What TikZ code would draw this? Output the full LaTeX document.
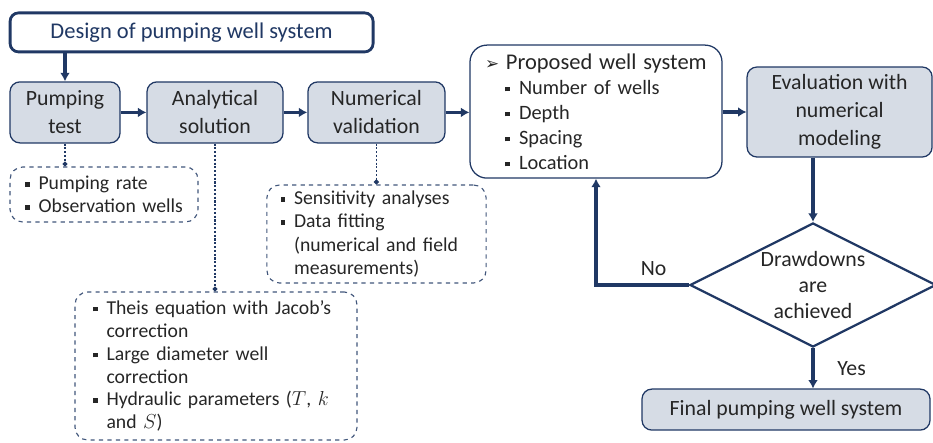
\documentclass[tikz,border=0pt]{standalone}
\usepackage{fontspec}
\setmainfont{Carlito}
\newfontfamily\symfont{DejaVu Sans}
\usepackage{xcolor}
\usetikzlibrary{arrows, arrows.meta, shapes.geometric}
\definecolor{navy}{HTML}{203864}
\definecolor{boxfill}{HTML}{D6DCE5}
\definecolor{txtgray}{HTML}{262626}
\newcommand{\sqbul}{\rule[0.3ex]{0.5ex}{0.5ex}\hspace{0.45em}}
\newcommand{\hang}{\phantom{\sqbul}}
\tikzset{
flow/.style={draw=navy, line width=2.4pt, -{Latex[length=6pt,width=7pt]}},
link/.style={draw=navy, dash pattern=on 1.5pt off 1.2pt, line width=0.8pt, -{Circle[length=3.5pt]}}
}

\begin{document}
\begin{tikzpicture}
		\tikzset{stepbox/.style = {draw=navy, line width=0.9pt, fill=boxfill, rounded corners=7pt, align=center, inner sep=1pt, text=txtgray, font=\fontsize{15.5}{20}\selectfont}}
		\tikzset{notebox/.style = {draw=navy!85, dashed, line width=0.8pt, rounded corners=9pt, align=left, inner ysep=1pt, text=txtgray, font=\fontsize{14}{16.5}\selectfont}}
		\tikzset{decision/.style = {shape=diamond, aspect=2, draw=navy, line width=1.6pt, fill=white, inner sep=0pt, minimum width=6.15cm, minimum height=3.1cm, align=center, text=txtgray, font=\fontsize{15.5}{18.5}\selectfont}}

		\useasboundingbox (0,0) rectangle (23.325,-11.05);

		\node[draw=navy, line width=2pt, rounded corners=6pt, fill=white, minimum width=9.075cm, minimum height=0.975cm, text=navy, font=\fontsize{16}{20}\selectfont] (design) at (4.79,-0.81) {Design of pumping well system};

		\node[stepbox, minimum width=2.75cm, minimum height=1.525cm] (pump) at (1.625,-2.81) {Pumping\\test};
		\node[stepbox, minimum width=3.4cm, minimum height=1.525cm] (anal) at (5.375,-2.81) {Analytical\\solution};
		\node[stepbox, minimum width=3.425cm, minimum height=1.525cm] (numval) at (9.41,-2.81) {Numerical\\validation};

		\node[draw=navy, line width=0.9pt, rounded corners=12pt, fill=white, align=left, text width=5.55cm, inner xsep=0.375cm, inner ysep=0pt, minimum height=3.325cm, text=txtgray, font=\fontsize{14.5}{17.8}\selectfont] (prop) at (14.9,-2.79)
			{\mbox{\fontsize{16}{17.8}\selectfont{\symfont\fontsize{12}{17.8}\selectfont ➢}\hspace{0.3em}Proposed well system}\\
			\hspace{0.5cm}\sqbul Number of wells\\
			\hspace{0.5cm}\sqbul Depth\\
			\hspace{0.5cm}\sqbul Spacing\\
			\hspace{0.5cm}\sqbul Location};

		\node[stepbox, minimum width=4.625cm, minimum height=2.25cm] (eval) at (20.99,-2.8) {Evaluation with\\numerical\\modeling};
		\node[decision] (check) at (20.325,-7.125) {Drawdowns\\are\\achieved};
		\node[stepbox, minimum width=7.2cm, minimum height=1.025cm] (final) at (19.65,-10.24) {Final pumping well system};

		\node[notebox, text width=3.95cm, inner xsep=0.375cm, minimum height=1.375cm] (note_pump) at (2.6,-4.8625)
			{\sqbul Pumping rate\\ \sqbul Observation wells};
		\node[notebox, text width=4.8cm, inner xsep=0.34cm, minimum height=2.45cm] (note_num) at (9.4125,-5.85)
			{\sqbul Sensitivity analyses\\ \sqbul Data fitting\\ \hang(numerical and field\\ \hang measurements)};
		\node[notebox, text width=6.15cm, inner xsep=0.45cm, minimum height=3.7cm, font=\fontsize{14}{16.3}\selectfont] (note_anal) at (5.4,-9.15)
			{\sqbul Theis equation with Jacob’s\\ \hang correction\\ \sqbul Large diameter well\\ \hang correction\\ \sqbul Hydraulic parameters ($T$, $k$\\ \hang and $S$)};

		\draw[flow] (design.south -| pump.north) -- (pump.north);
		\draw[flow] (pump) -- (anal);
		\draw[flow] (anal) -- (numval);
		\draw[flow] (numval.east) -- (numval.east -| prop.west);
		\draw[flow] (prop.east |- eval.west) -- (eval.west);
		\draw[flow] (eval.south -| check.north) -- (check.north);
		\draw[flow] (check.south) -- node[right=0.45cm, text=txtgray, font=\fontsize{15.5}{18}\selectfont] (yes) {Yes} (final.north -| check.south);
		\draw[flow] (check.west) -| node[pos=0.19, above=2pt, text=txtgray, font=\fontsize{15.5}{18}\selectfont] (no) {No} (prop.south);

		\draw[link] (pump.south) -- (pump.south |- note_pump.north);
		\draw[link] (anal.south) -- (anal.south |- note_anal.north);
		\draw[link] (numval.south) -- (numval.south |- note_num.north);
	\end{tikzpicture}
\end{document}
